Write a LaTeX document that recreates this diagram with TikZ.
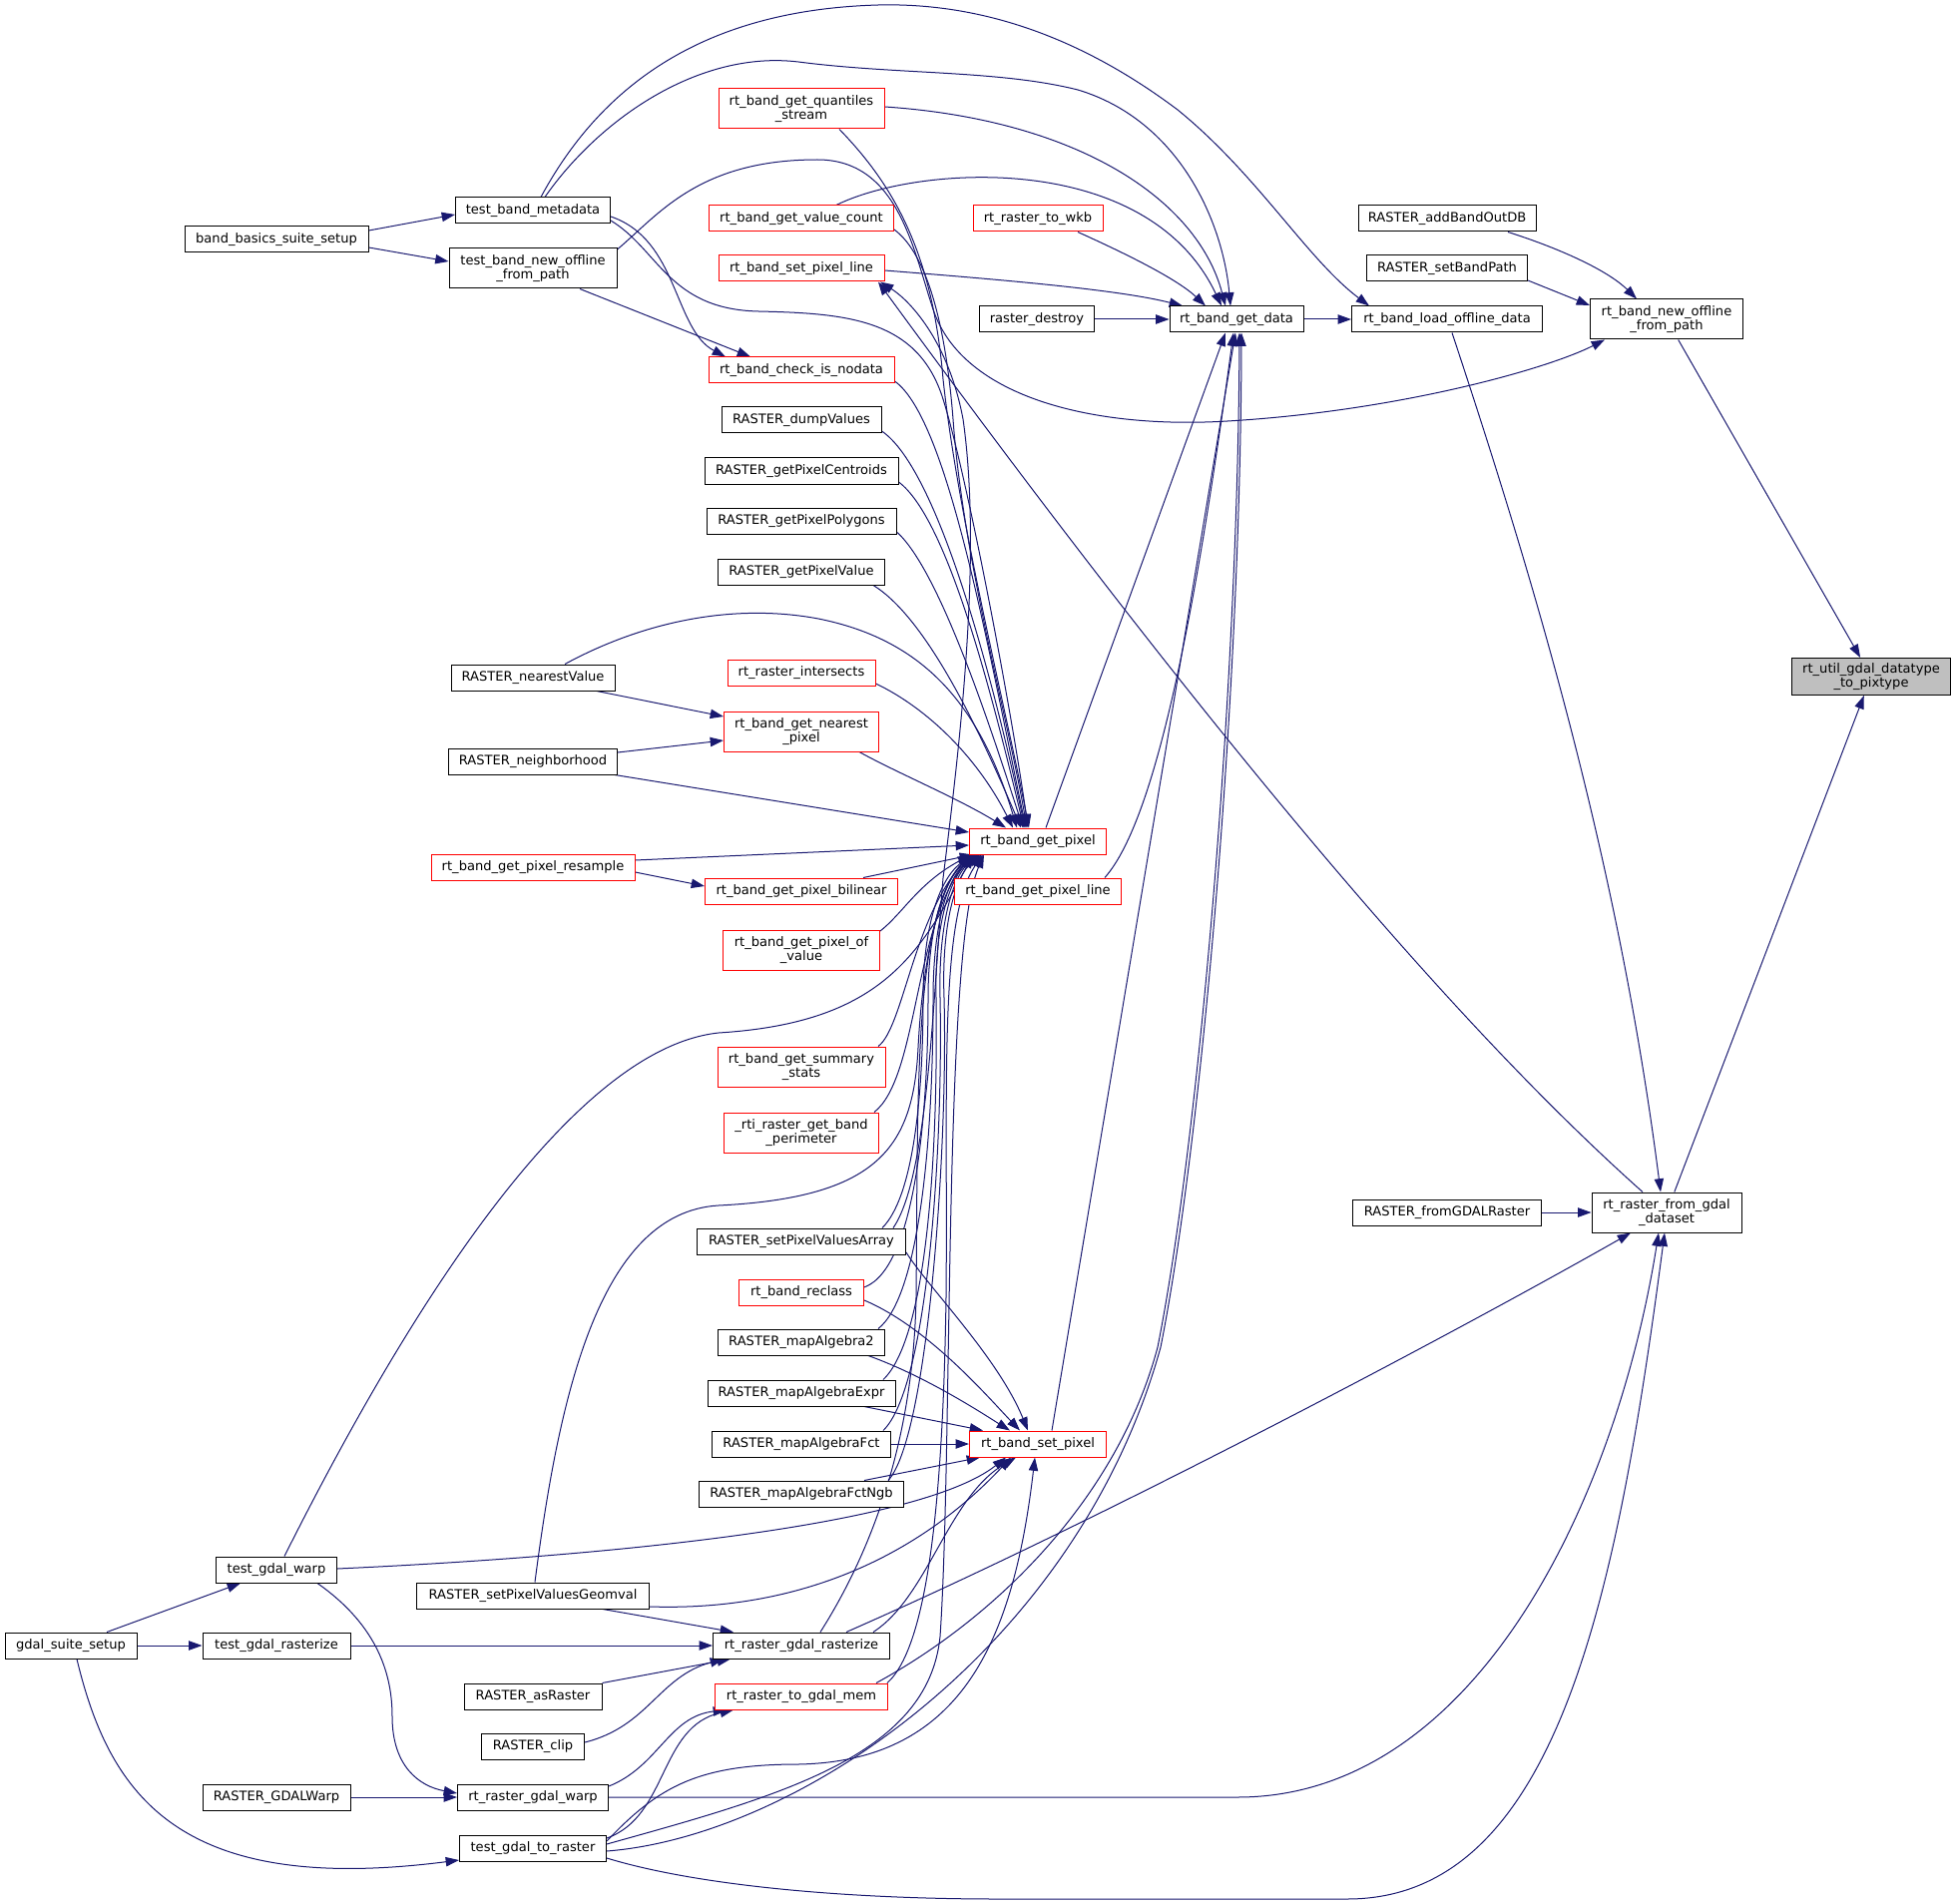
\documentclass[tikz,border=0pt]{standalone}
\usepackage{fontspec}
\newfontfamily\dvsfont{DejaVu Sans}
\usetikzlibrary{arrows.meta,backgrounds}
\definecolor{ebl}{HTML}{191970}
\definecolor{gfill}{HTML}{BFBFBF}
\definecolor{rdc}{HTML}{FF0000}
\newcommand\nd[7]{\node[#6, minimum width=#4*0.75pt, minimum height=#5*0.75pt] (#1) at (#2,#3) {#7};}
\tikzset{
  nbase/.style={fill=white, line width=0.75pt, inner sep=0pt, align=center, font=\dvsfont\fontsize{9.8}{10.7}\selectfont},
  nbk/.style={nbase, draw=black},
  nrd/.style={nbase, draw=rdc},
  ngy/.style={nbase, draw=black, fill=gfill},
  ln/.style={draw=ebl, line width=0.75pt, -{Triangle[length=10pt,width=7pt]}}
}
\begin{document}
\begin{tikzpicture}[x=0.75pt,y=-0.75pt]
\useasboundingbox (0,0) rectangle (1960,1908);
\nd{N1}{277}{240}{184}{26}{nbk}{band\_basics\_suite\_setup}
\nd{N2}{534}{211}{155}{26}{nbk}{test\_band\_metadata}
\nd{N3}{534}{269}{168}{40}{nbk}{test\_band\_new\_offline\\\_from\_path}
\nd{N4}{803}{109}{166}{40}{nrd}{rt\_band\_get\_quantiles\\\_stream}
\nd{N5}{803}{219}{185}{26}{nrd}{rt\_band\_get\_value\_count}
\nd{N6}{803}{269}{166}{26}{nrd}{rt\_band\_set\_pixel\_line}
\nd{N7}{803}{371}{186}{26}{nrd}{rt\_band\_check\_is\_nodata}
\nd{N8}{803}{421}{160}{26}{nbk}{RASTER\_dumpValues}
\nd{N9}{803}{472}{194}{26}{nbk}{RASTER\_getPixelCentroids}
\nd{N10}{803}{522}{190}{26}{nbk}{RASTER\_getPixelPolygons}
\nd{N11}{803}{573}{167}{26}{nbk}{RASTER\_getPixelValue}
\nd{N12}{534}{679}{164}{26}{nbk}{RASTER\_nearestValue}
\nd{N13}{803}{674}{148}{26}{nrd}{rt\_raster\_intersects}
\nd{N14}{803}{733}{155}{40}{nrd}{rt\_band\_get\_nearest\\\_pixel}
\nd{N15}{534}{763}{169}{26}{nbk}{RASTER\_neighborhood}
\nd{N16}{1040}{843}{137}{26}{nrd}{rt\_band\_get\_pixel}
\nd{N17}{534}{869}{204}{26}{nrd}{rt\_band\_get\_pixel\_resample}
\nd{N18}{803}{893}{193}{26}{nrd}{rt\_band\_get\_pixel\_bilinear}
\nd{N19}{1040}{893}{167}{26}{nrd}{rt\_band\_get\_pixel\_line}
\nd{N20}{803}{952}{157}{40}{nrd}{rt\_band\_get\_pixel\_of\\\_value}
\nd{N21}{803}{1069}{168}{40}{nrd}{rt\_band\_get\_summary\\\_stats}
\nd{N22}{803}{1135}{155}{40}{nrd}{\_rti\_raster\_get\_band\\\_perimeter}
\nd{N23}{803}{1244}{209}{26}{nbk}{RASTER\_setPixelValuesArray}
\nd{N24}{803}{1295}{125}{26}{nrd}{rt\_band\_reclass}
\nd{N25}{803}{1345}{167}{26}{nbk}{RASTER\_mapAlgebra2}
\nd{N26}{803}{1396}{188}{26}{nbk}{RASTER\_mapAlgebraExpr}
\nd{N27}{803}{1447}{179}{26}{nbk}{RASTER\_mapAlgebraFct}
\nd{N28}{1040}{1447}{137}{26}{nrd}{rt\_band\_set\_pixel}
\nd{N29}{803}{1497}{205}{26}{nbk}{RASTER\_mapAlgebraFctNgb}
\nd{N30}{277}{1573}{121}{26}{nbk}{test\_gdal\_warp}
\nd{N31}{534}{1599}{233}{26}{nbk}{RASTER\_setPixelValuesGeomval}
\nd{N32}{71}{1649}{132}{26}{nbk}{gdal\_suite\_setup}
\nd{N33}{277}{1649}{148}{26}{nbk}{test\_gdal\_rasterize}
\nd{N34}{803}{1649}{177}{26}{nbk}{rt\_raster\_gdal\_rasterize}
\nd{N35}{534}{1700}{138}{26}{nbk}{RASTER\_asRaster}
\nd{N36}{803}{1700}{173}{26}{nrd}{rt\_raster\_to\_gdal\_mem}
\nd{N37}{534}{1750}{103}{26}{nbk}{RASTER\_clip}
\nd{N38}{277}{1801}{148}{26}{nbk}{RASTER\_GDALWarp}
\nd{N39}{534}{1801}{151}{26}{nbk}{rt\_raster\_gdal\_warp}
\nd{N40}{534}{1852}{147}{26}{nbk}{test\_gdal\_to\_raster}
\nd{N41}{1040}{219}{130}{26}{nrd}{rt\_raster\_to\_wkb}
\nd{N42}{1039}{320}{115}{26}{nbk}{raster\_destroy}
\nd{N43}{1239}{320}{134}{26}{nbk}{rt\_band\_get\_data}
\nd{N44}{1450}{320}{191}{26}{nbk}{rt\_band\_load\_offline\_data}
\nd{N45}{1450}{219}{178}{26}{nbk}{RASTER\_addBandOutDB}
\nd{N46}{1450}{269}{161}{26}{nbk}{RASTER\_setBandPath}
\nd{N47}{1670}{320}{153}{40}{nbk}{rt\_band\_new\_offline\\\_from\_path}
\nd{N48}{1450}{1215}{189}{26}{nbk}{RASTER\_fromGDALRaster}
\nd{N49}{1670}{1215}{150}{40}{nbk}{rt\_raster\_from\_gdal\\\_dataset}
\nd{N50}{1875}{678}{159}{37}{ngy}{rt\_util\_gdal\_datatype\\\_to\_pixtype}
\begin{scope}[on background layer]
\fill[white] (0,0) rectangle (1960,1908);
% top area
\draw[ln] (N1.east |- 0,231) -- (N2.west |- 0,215);
\draw[ln] (N1.east |- 0,248) -- (N3.west |- 0,262);
\draw[ln] (N2.north -| 542,0) .. controls (600,90) and (700,10) .. (880,5) .. controls (1000,2) and (1100,50) .. (1180,110) .. controls (1260,175) and (1310,260) .. (N44.north -| 1372,0);
\draw[ln] (N2.north -| 546,0) .. controls (600,120) and (700,50) .. (800,62) .. controls (900,75) and (1000,70) .. (1080,90) .. controls (1180,120) and (1225,220) .. (N43.north -| 1233,0);
\draw[ln] (N2.east |- 0,217) .. controls (680,240) and (675,330) .. (N7.north -| 727,0);
\draw[ln] (N2.east |- 0,221) .. controls (660,250) and (670,310) .. (760,312) .. controls (850,314) and (920,320) .. (945,400) .. controls (970,480) and (1015,720) .. (N16.north -| 1030,0);
\draw[ln] (N3.south -| 581,0) -- (N7.north -| 752,0);
\draw[ln] (N3.east |- 0,250) .. controls (660,215) and (700,160) .. (819,160) .. controls (900,160) and (915,250) .. (935,310) .. controls (965,400) and (1100,430) .. (1230,422) .. controls (1400,412) and (1550,370) .. (N47.south -| 1608,0);
\draw[ln] (N4.east |- 0,107) .. controls (1080,120) and (1200,200) .. (N43.north -| 1228,0);
\draw[ln] (N4.south -| 841,0) .. controls (900,190) and (935,260) .. (945,380) .. controls (960,520) and (1010,720) .. (N16.north -| 1031,0);
\draw[ln] (N5.north -| 838,0) .. controls (920,165) and (1150,150) .. (N43.north -| 1224,0);
\draw[ln] (N5.east |- 0,230) .. controls (930,255) and (948,330) .. (955,420) .. controls (965,560) and (1010,720) .. (N16.north -| 1029,0);
\draw[ln] (N6.east |- 0,271) .. controls (1000,280) and (1120,290) .. (N43.north -| 1185,0);
\draw[ln] (N41.south -| 1080,0) .. controls (1130,255) and (1180,280) .. (N43.north -| 1208,0);
\draw[ln] (N42) -- (N43);
\draw[ln] (N43) -- (N44);
\draw[ln] (N45.south -| 1511,0) .. controls (1560,248) and (1610,270) .. (N47.north -| 1640,0);
\draw[ln] (N46.east |- 0,281) -- (N47.west |- 0,306);
\draw[ln] (N47) -- (N50);
\draw[ln] (N44.south -| 1455,0) .. controls (1530,560) and (1620,850) .. (N49.north -| 1664,0);
\draw[ln] (N49) -- (N50);
\draw[ln] (N49.north -| 1646,0) .. controls (1450,1020) and (1200,720) .. (N6.south -| 880,0);
\draw[ln] (N48) -- (N49);
% into get_pixel from above
\draw[ln] (N7.east |- 0,382) .. controls (950,420) and (990,650) .. (N16.north -| 1028,0);
\draw[ln] (N8.east |- 0,432) .. controls (940,470) and (995,680) .. (N16.north -| 1027,0);
\draw[ln] (N9.east |- 0,483) .. controls (950,520) and (995,700) .. (N16.north -| 1026,0);
\draw[ln] (N10.east |- 0,533) .. controls (940,570) and (990,720) .. (N16.north -| 1025,0);
\draw[ln] (N11.south -| 875,0) .. controls (930,620) and (985,740) .. (N16.north -| 1023,0);
\draw[ln] (N12.north -| 566,0) .. controls (650,620) and (740,605) .. (820,620) .. controls (920,640) and (980,700) .. (N16.north -| 1019,0);
\draw[ln] (N12.south -| 598,0) -- (N14.west |- 0,718);
\draw[ln] (N15.east |- 0,754) -- (N14.west |- 0,742);
\draw[ln] (N15.south -| 616,0) -- (N16.west |- 0,834);
\draw[ln] (N13.east |- 0,685) .. controls (930,710) and (980,760) .. (N16.north -| 1015,0);
\draw[ln] (N14.south -| 861,0) .. controls (900,775) and (960,800) .. (N16.north -| 1008,0);
\draw[ln] (N17.east |- 0,862) -- (N16.west |- 0,847);
\draw[ln] (N17.east |- 0,874) -- (N18.west |- 0,888);
\draw[ln] (N18.north -| 865,0) -- (N16.south -| 975,0);
\draw[ln] (N20.east |- 0,933) .. controls (905,915) and (920,885) .. (N16.south -| 973,0);
\draw[ln] (N16.north -| 1048,0) -- (N43.south -| 1228,0);
\draw[ln] (N19.north -| 1107,0) .. controls (1160,820) and (1200,600) .. (N43.south -| 1236,0);
% into get_pixel from below
\draw[ln] (N21.north -| 880,0) .. controls (905,1030) and (915,920) .. (N16.south -| 973,0);
\draw[ln] (N22.north -| 876,0) .. controls (920,1080) and (915,930) .. (N16.south -| 974,0);
\draw[ln] (N30.north -| 285,0) .. controls (420,1290) and (580,1050) .. (720,1035) .. controls (880,1025) and (920,960) .. (N16.south -| 975,0);
\draw[ln] (N31.north -| 536,0) .. controls (560,1400) and (600,1215) .. (720,1208) .. controls (880,1200) and (915,1150) .. (920,1050) .. controls (925,950) and (945,880) .. (N16.south -| 976,0);
\draw[ln] (N23.north -| 884,0) .. controls (915,1200) and (925,1100) .. (925,1000) .. controls (925,920) and (945,875) .. (N16.south -| 977,0);
\draw[ln] (N24.east |- 0,1290) .. controls (920,1270) and (930,1100) .. (930,1000) .. controls (930,920) and (950,875) .. (N16.south -| 978,0);
\draw[ln] (N25.north -| 880,0) .. controls (920,1300) and (935,1150) .. (935,1000) .. controls (935,920) and (952,875) .. (N16.south -| 980,0);
\draw[ln] (N26.north -| 885,0) .. controls (930,1340) and (940,1150) .. (938,1000) .. controls (936,920) and (955,875) .. (N16.south -| 981,0);
\draw[ln] (N27.north -| 885,0) .. controls (930,1390) and (945,1150) .. (942,1000) .. controls (940,920) and (957,875) .. (N16.south -| 982,0);
\draw[ln] (N29.north -| 890,0) .. controls (930,1440) and (950,1150) .. (946,1000) .. controls (943,920) and (960,875) .. (N16.south -| 984,0);
\draw[ln] (N34.north -| 822,0) .. controls (870,1560) and (915,1450) .. (918,1300) .. controls (920,1100) and (915,920) .. (N16.south -| 972,0);
\draw[ln] (N36.north -| 889,0) .. controls (930,1650) and (945,1500) .. (948,1300) .. controls (950,1100) and (940,920) .. (N16.south -| 985,0);
\draw[ln] (N40.east |- 0,1848) .. controls (780,1800) and (930,1760) .. (942,1640) .. controls (955,1450) and (945,950) .. (N16.south -| 986,0);
\draw[ln] (N23.north -| 895,0) .. controls (930,1180) and (935,1000) .. (945,880) .. controls (960,760) and (985,560) .. (965,420) .. controls (950,340) and (910,300) .. (N6.south -| 882,0);
% into set_pixel
\draw[ln] (N23.east |- 0,1255) .. controls (930,1290) and (1000,1360) .. (N28.north -| 1030,0);
\draw[ln] (N24.east |- 0,1303) .. controls (930,1330) and (990,1400) .. (N28.north -| 1022,0);
\draw[ln] (N25.south -| 870,0) .. controls (930,1380) and (990,1420) .. (N28.north -| 1012,0);
\draw[ln] (N26.south -| 866,0) -- (N28.north -| 985,0);
\draw[ln] (N27) -- (N28);
\draw[ln] (N29.north -| 866,0) -- (N28.south -| 982,0);
\draw[ln] (N30.east |- 0,1572) .. controls (600,1560) and (920,1530) .. (N28.south -| 1008,0);
\draw[ln] (N31.east |- 0,1610) .. controls (800,1615) and (920,1560) .. (N28.south -| 1013,0);
\draw[ln] (N34.north -| 875,0) .. controls (930,1600) and (950,1500) .. (N28.south -| 1018,0);
\draw[ln] (N40.east |- 0,1845) .. controls (660,1790) and (700,1768) .. (800,1768) .. controls (960,1765) and (1015,1650) .. (N28.south -| 1037,0);
\draw[ln] (N28.north -| 1054,0) -- (N43.south -| 1238,0);
% bottom area
\draw[ln] (N31.south -| 604,0) -- (N34.north -| 735,0);
\draw[ln] (N34.north -| 848,0) .. controls (1100,1525) and (1450,1340) .. (N49.south -| 1634,0);
\draw[ln] (N33) -- (N34);
\draw[ln] (N35.north east) -- (N34.south -| 732,0);
\draw[ln] (N37.east |- 0,1746) .. controls (650,1730) and (660,1680) .. (N34.south -| 725,0);
\draw[ln] (N36.north -| 878,0) .. controls (1000,1620) and (1120,1500) .. (1160,1350) .. controls (1200,1150) and (1240,700) .. (N43.south -| 1242,0);
\draw[ln] (N40.east |- 0,1855) .. controls (800,1840) and (1080,1650) .. (1163,1350) .. controls (1203,1150) and (1243,700) .. (N43.south -| 1244,0);
\draw[ln] (N39.east |- 0,1790) .. controls (660,1770) and (670,1720) .. (N36.south -| 728,0);
\draw[ln] (N39.east) -- (1240,1801) .. controls (1480,1801) and (1620,1500) .. (N49.south -| 1662,0);
\draw[ln] (N40.east |- 0,1842) .. controls (670,1820) and (660,1730) .. (N36.south -| 735,0);
\draw[ln] (N40.east |- 0,1862) .. controls (700,1890) and (850,1903) .. (1000,1903) -- (1350,1903) .. controls (1560,1903) and (1620,1600) .. (N49.south -| 1668,0);
\draw[ln] (N38) -- (N39);
\draw[ln] (N30.south -| 318,0) .. controls (380,1630) and (393,1680) .. (393,1720) .. controls (393,1770) and (420,1790) .. (N39.west |- 0,1797);
\draw[ln] (N32.north -| 107,0) -- (N30.south -| 241,0);
\draw[ln] (N32) -- (N33);
\draw[ln] (N32.south -| 77,0) .. controls (110,1800) and (180,1900) .. (N40.west |- 0,1864);
\end{scope}
\end{tikzpicture}
\end{document}
